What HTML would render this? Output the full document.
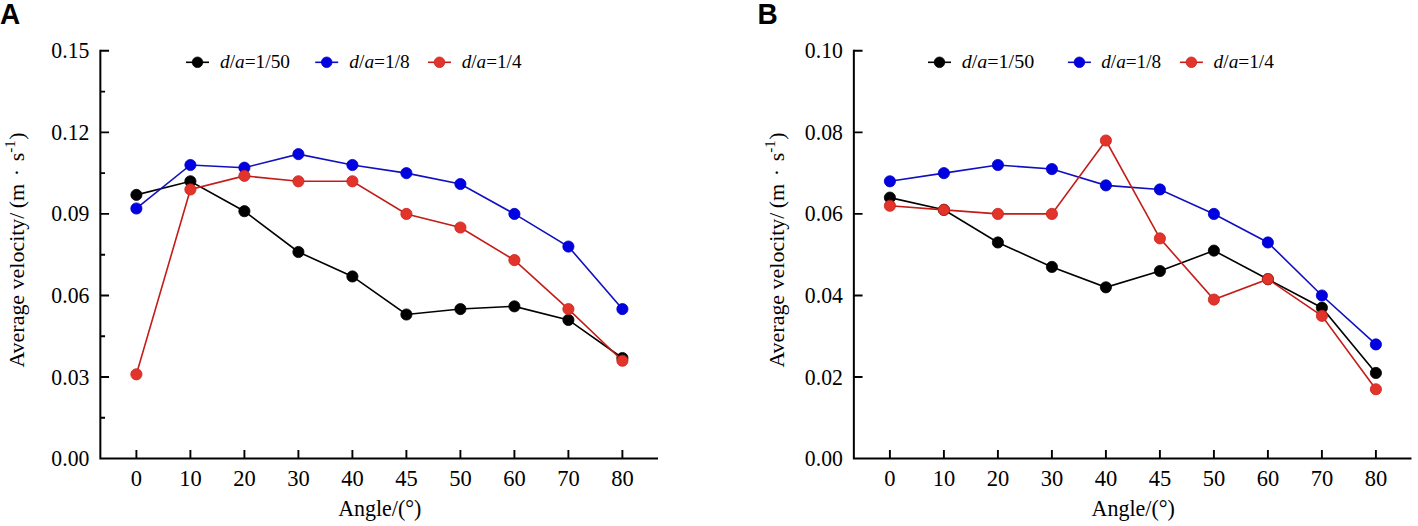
<!DOCTYPE html>
<html><head><meta charset="utf-8"><style>
html,body{margin:0;padding:0;background:#fff;width:1418px;height:526px;overflow:hidden}
svg{display:block}
.t{font-family:"Liberation Serif",serif;font-size:22.5px;fill:#000}
.pl{font-family:"Liberation Sans",sans-serif;font-weight:bold;font-size:28px;fill:#000}
</style></head><body>
<svg width="1418" height="526" viewBox="0 0 1418 526">
<text transform="translate(0 23.7) scale(1 1.08)" class="pl">A</text>
<text transform="translate(757.5 23.7) scale(1 1.08)" class="pl">B</text>
<path d="M100.35 49.80 V458.60 H658.00" fill="none" stroke="#000" stroke-width="2.0"/>
<path d="M100.35 417.82h4.7 M100.35 377.04h8.7 M100.35 336.26h4.7 M100.35 295.48h8.7 M100.35 254.70h4.7 M100.35 213.92h8.7 M100.35 173.14h4.7 M100.35 132.36h8.7 M100.35 91.58h4.7 M100.35 50.80h8.7 M136.40 458.60v-8.6 M190.40 458.60v-8.6 M244.40 458.60v-8.6 M298.40 458.60v-8.6 M352.40 458.60v-8.6 M406.40 458.60v-8.6 M460.40 458.60v-8.6 M514.40 458.60v-8.6 M568.40 458.60v-8.6 M622.40 458.60v-8.6" fill="none" stroke="#000" stroke-width="1.9"/>
<text x="89.35" y="466.10" text-anchor="end" class="t" textLength="38" lengthAdjust="spacingAndGlyphs">0.00</text>
<text x="89.35" y="384.54" text-anchor="end" class="t" textLength="38" lengthAdjust="spacingAndGlyphs">0.03</text>
<text x="89.35" y="302.98" text-anchor="end" class="t" textLength="38" lengthAdjust="spacingAndGlyphs">0.06</text>
<text x="89.35" y="221.42" text-anchor="end" class="t" textLength="38" lengthAdjust="spacingAndGlyphs">0.09</text>
<text x="89.35" y="139.86" text-anchor="end" class="t" textLength="38" lengthAdjust="spacingAndGlyphs">0.12</text>
<text x="89.35" y="58.30" text-anchor="end" class="t" textLength="38" lengthAdjust="spacingAndGlyphs">0.15</text>
<text x="136.40" y="486" text-anchor="middle" class="t">0</text>
<text x="190.40" y="486" text-anchor="middle" class="t">10</text>
<text x="244.40" y="486" text-anchor="middle" class="t">20</text>
<text x="298.40" y="486" text-anchor="middle" class="t">30</text>
<text x="352.40" y="486" text-anchor="middle" class="t">40</text>
<text x="406.40" y="486" text-anchor="middle" class="t">45</text>
<text x="460.40" y="486" text-anchor="middle" class="t">50</text>
<text x="514.40" y="486" text-anchor="middle" class="t">60</text>
<text x="568.40" y="486" text-anchor="middle" class="t">70</text>
<text x="622.40" y="486" text-anchor="middle" class="t">80</text>
<text x="379.78" y="516" text-anchor="middle" class="t" textLength="83.3" lengthAdjust="spacingAndGlyphs">Angle/(°)</text>
<text transform="translate(23.60 367.60) rotate(-90)" text-anchor="start" class="t" style="font-size:22px" textLength="155" lengthAdjust="spacingAndGlyphs">Average velocity/</text>
<text transform="translate(23.60 196.00) rotate(-90)" text-anchor="middle" class="t" style="font-size:22px">(m</text>
<text transform="translate(23.60 172.60) rotate(-90)" text-anchor="middle" class="t" style="font-size:22px">·</text>
<text transform="translate(23.60 157.00) rotate(-90)" text-anchor="middle" class="t" style="font-size:22px">s</text>
<text transform="translate(14.60 146.50) rotate(-90)" text-anchor="middle" class="t" style="font-size:15px">-1</text>
<text transform="translate(23.60 136.00) rotate(-90)" text-anchor="middle" class="t" style="font-size:22px">)</text>
<path d="M136.40 194.89 L190.40 181.30 L244.40 211.20 L298.40 251.98 L352.40 276.45 L406.40 314.51 L460.40 309.07 L514.40 306.35 L568.40 319.95 L622.40 358.01" fill="none" stroke="#000000" stroke-width="1.6"/>
<g fill="#000000" stroke="#000000" stroke-width="0.8"><circle cx="136.40" cy="194.89" r="5.6"/><circle cx="190.40" cy="181.30" r="5.6"/><circle cx="244.40" cy="211.20" r="5.6"/><circle cx="298.40" cy="251.98" r="5.6"/><circle cx="352.40" cy="276.45" r="5.6"/><circle cx="406.40" cy="314.51" r="5.6"/><circle cx="460.40" cy="309.07" r="5.6"/><circle cx="514.40" cy="306.35" r="5.6"/><circle cx="568.40" cy="319.95" r="5.6"/><circle cx="622.40" cy="358.01" r="5.6"/></g>
<path d="M136.40 208.48 L190.40 164.98 L244.40 167.70 L298.40 154.11 L352.40 164.98 L406.40 173.14 L460.40 184.01 L514.40 213.92 L568.40 246.54 L622.40 309.07" fill="none" stroke="#1010c0" stroke-width="1.6"/>
<g fill="#0000e0" stroke="#0000c8" stroke-width="0.8"><circle cx="136.40" cy="208.48" r="5.6"/><circle cx="190.40" cy="164.98" r="5.6"/><circle cx="244.40" cy="167.70" r="5.6"/><circle cx="298.40" cy="154.11" r="5.6"/><circle cx="352.40" cy="164.98" r="5.6"/><circle cx="406.40" cy="173.14" r="5.6"/><circle cx="460.40" cy="184.01" r="5.6"/><circle cx="514.40" cy="213.92" r="5.6"/><circle cx="568.40" cy="246.54" r="5.6"/><circle cx="622.40" cy="309.07" r="5.6"/></g>
<path d="M136.40 374.32 L190.40 189.45 L244.40 175.86 L298.40 181.30 L352.40 181.30 L406.40 213.92 L460.40 227.51 L514.40 260.14 L568.40 309.07 L622.40 360.73" fill="none" stroke="#c41c18" stroke-width="1.6"/>
<g fill="#e2342a" stroke="#c8231a" stroke-width="0.8"><circle cx="136.40" cy="374.32" r="5.6"/><circle cx="190.40" cy="189.45" r="5.6"/><circle cx="244.40" cy="175.86" r="5.6"/><circle cx="298.40" cy="181.30" r="5.6"/><circle cx="352.40" cy="181.30" r="5.6"/><circle cx="406.40" cy="213.92" r="5.6"/><circle cx="460.40" cy="227.51" r="5.6"/><circle cx="514.40" cy="260.14" r="5.6"/><circle cx="568.40" cy="309.07" r="5.6"/><circle cx="622.40" cy="360.73" r="5.6"/></g>
<path d="M186.00 62.30h23" stroke="#000000" stroke-width="1.6"/>
<circle cx="197.50" cy="62.30" r="5.3" fill="#000000" stroke="#000000" stroke-width="0.8"/>
<text x="220.00" y="67.80" class="t" style="font-size:19.5px" textLength="70" lengthAdjust="spacingAndGlyphs"><tspan font-style="italic">d</tspan>/<tspan font-style="italic">a</tspan>=1/50</text>
<path d="M315.20 62.30h23" stroke="#1010c0" stroke-width="1.6"/>
<circle cx="326.70" cy="62.30" r="5.3" fill="#0000e0" stroke="#0000c8" stroke-width="0.8"/>
<text x="349.30" y="67.80" class="t" style="font-size:19.5px" textLength="60.5" lengthAdjust="spacingAndGlyphs"><tspan font-style="italic">d</tspan>/<tspan font-style="italic">a</tspan>=1/8</text>
<path d="M428.00 62.30h23" stroke="#c41c18" stroke-width="1.6"/>
<circle cx="439.50" cy="62.30" r="5.3" fill="#e2342a" stroke="#c8231a" stroke-width="0.8"/>
<text x="461.70" y="67.80" class="t" style="font-size:19.5px" textLength="59.8" lengthAdjust="spacingAndGlyphs"><tspan font-style="italic">d</tspan>/<tspan font-style="italic">a</tspan>=1/4</text>
<path d="M853.85 49.80 V458.60 H1411.50" fill="none" stroke="#000" stroke-width="2.0"/>
<path d="M853.85 377.04h8.7 M853.85 295.48h8.7 M853.85 213.92h8.7 M853.85 132.36h8.7 M853.85 50.80h8.7 M889.90 458.60v-8.6 M943.90 458.60v-8.6 M997.90 458.60v-8.6 M1051.90 458.60v-8.6 M1105.90 458.60v-8.6 M1159.90 458.60v-8.6 M1213.90 458.60v-8.6 M1267.90 458.60v-8.6 M1321.90 458.60v-8.6 M1375.90 458.60v-8.6" fill="none" stroke="#000" stroke-width="1.9"/>
<text x="842.85" y="466.10" text-anchor="end" class="t" textLength="38" lengthAdjust="spacingAndGlyphs">0.00</text>
<text x="842.85" y="384.54" text-anchor="end" class="t" textLength="38" lengthAdjust="spacingAndGlyphs">0.02</text>
<text x="842.85" y="302.98" text-anchor="end" class="t" textLength="38" lengthAdjust="spacingAndGlyphs">0.04</text>
<text x="842.85" y="221.42" text-anchor="end" class="t" textLength="38" lengthAdjust="spacingAndGlyphs">0.06</text>
<text x="842.85" y="139.86" text-anchor="end" class="t" textLength="38" lengthAdjust="spacingAndGlyphs">0.08</text>
<text x="842.85" y="58.30" text-anchor="end" class="t" textLength="38" lengthAdjust="spacingAndGlyphs">0.10</text>
<text x="889.90" y="486" text-anchor="middle" class="t">0</text>
<text x="943.90" y="486" text-anchor="middle" class="t">10</text>
<text x="997.90" y="486" text-anchor="middle" class="t">20</text>
<text x="1051.90" y="486" text-anchor="middle" class="t">30</text>
<text x="1105.90" y="486" text-anchor="middle" class="t">40</text>
<text x="1159.90" y="486" text-anchor="middle" class="t">45</text>
<text x="1213.90" y="486" text-anchor="middle" class="t">50</text>
<text x="1267.90" y="486" text-anchor="middle" class="t">60</text>
<text x="1321.90" y="486" text-anchor="middle" class="t">70</text>
<text x="1375.90" y="486" text-anchor="middle" class="t">80</text>
<text x="1133.27" y="516" text-anchor="middle" class="t" textLength="83.3" lengthAdjust="spacingAndGlyphs">Angle/(°)</text>
<text transform="translate(783.90 367.60) rotate(-90)" text-anchor="start" class="t" style="font-size:22px" textLength="155" lengthAdjust="spacingAndGlyphs">Average velocity/</text>
<text transform="translate(783.90 196.00) rotate(-90)" text-anchor="middle" class="t" style="font-size:22px">(m</text>
<text transform="translate(783.90 172.60) rotate(-90)" text-anchor="middle" class="t" style="font-size:22px">·</text>
<text transform="translate(783.90 157.00) rotate(-90)" text-anchor="middle" class="t" style="font-size:22px">s</text>
<text transform="translate(774.90 146.50) rotate(-90)" text-anchor="middle" class="t" style="font-size:15px">-1</text>
<text transform="translate(783.90 136.00) rotate(-90)" text-anchor="middle" class="t" style="font-size:22px">)</text>
<path d="M889.90 197.61 L943.90 209.84 L997.90 242.47 L1051.90 266.93 L1105.90 287.32 L1159.90 271.01 L1213.90 250.62 L1267.90 279.17 L1321.90 307.71 L1375.90 372.96" fill="none" stroke="#000000" stroke-width="1.6"/>
<g fill="#000000" stroke="#000000" stroke-width="0.8"><circle cx="889.90" cy="197.61" r="5.6"/><circle cx="943.90" cy="209.84" r="5.6"/><circle cx="997.90" cy="242.47" r="5.6"/><circle cx="1051.90" cy="266.93" r="5.6"/><circle cx="1105.90" cy="287.32" r="5.6"/><circle cx="1159.90" cy="271.01" r="5.6"/><circle cx="1213.90" cy="250.62" r="5.6"/><circle cx="1267.90" cy="279.17" r="5.6"/><circle cx="1321.90" cy="307.71" r="5.6"/><circle cx="1375.90" cy="372.96" r="5.6"/></g>
<path d="M889.90 181.30 L943.90 173.14 L997.90 164.98 L1051.90 169.06 L1105.90 185.37 L1159.90 189.45 L1213.90 213.92 L1267.90 242.47 L1321.90 295.48 L1375.90 344.42" fill="none" stroke="#1010c0" stroke-width="1.6"/>
<g fill="#0000e0" stroke="#0000c8" stroke-width="0.8"><circle cx="889.90" cy="181.30" r="5.6"/><circle cx="943.90" cy="173.14" r="5.6"/><circle cx="997.90" cy="164.98" r="5.6"/><circle cx="1051.90" cy="169.06" r="5.6"/><circle cx="1105.90" cy="185.37" r="5.6"/><circle cx="1159.90" cy="189.45" r="5.6"/><circle cx="1213.90" cy="213.92" r="5.6"/><circle cx="1267.90" cy="242.47" r="5.6"/><circle cx="1321.90" cy="295.48" r="5.6"/><circle cx="1375.90" cy="344.42" r="5.6"/></g>
<path d="M889.90 205.76 L943.90 209.84 L997.90 213.92 L1051.90 213.92 L1105.90 140.52 L1159.90 238.39 L1213.90 299.56 L1267.90 279.17 L1321.90 315.87 L1375.90 389.27" fill="none" stroke="#c41c18" stroke-width="1.6"/>
<g fill="#e2342a" stroke="#c8231a" stroke-width="0.8"><circle cx="889.90" cy="205.76" r="5.6"/><circle cx="943.90" cy="209.84" r="5.6"/><circle cx="997.90" cy="213.92" r="5.6"/><circle cx="1051.90" cy="213.92" r="5.6"/><circle cx="1105.90" cy="140.52" r="5.6"/><circle cx="1159.90" cy="238.39" r="5.6"/><circle cx="1213.90" cy="299.56" r="5.6"/><circle cx="1267.90" cy="279.17" r="5.6"/><circle cx="1321.90" cy="315.87" r="5.6"/><circle cx="1375.90" cy="389.27" r="5.6"/></g>
<path d="M928.00 62.30h23" stroke="#000000" stroke-width="1.6"/>
<circle cx="939.50" cy="62.30" r="5.3" fill="#000000" stroke="#000000" stroke-width="0.8"/>
<text x="961.70" y="67.80" class="t" style="font-size:19.5px" textLength="72.5" lengthAdjust="spacingAndGlyphs"><tspan font-style="italic">d</tspan>/<tspan font-style="italic">a</tspan>=1/50</text>
<path d="M1067.90 62.30h23" stroke="#1010c0" stroke-width="1.6"/>
<circle cx="1079.40" cy="62.30" r="5.3" fill="#0000e0" stroke="#0000c8" stroke-width="0.8"/>
<text x="1101.20" y="67.80" class="t" style="font-size:19.5px" textLength="60" lengthAdjust="spacingAndGlyphs"><tspan font-style="italic">d</tspan>/<tspan font-style="italic">a</tspan>=1/8</text>
<path d="M1179.90 62.30h23" stroke="#c41c18" stroke-width="1.6"/>
<circle cx="1191.40" cy="62.30" r="5.3" fill="#e2342a" stroke="#c8231a" stroke-width="0.8"/>
<text x="1213.60" y="67.80" class="t" style="font-size:19.5px" textLength="60.3" lengthAdjust="spacingAndGlyphs"><tspan font-style="italic">d</tspan>/<tspan font-style="italic">a</tspan>=1/4</text>
</svg></body></html>
